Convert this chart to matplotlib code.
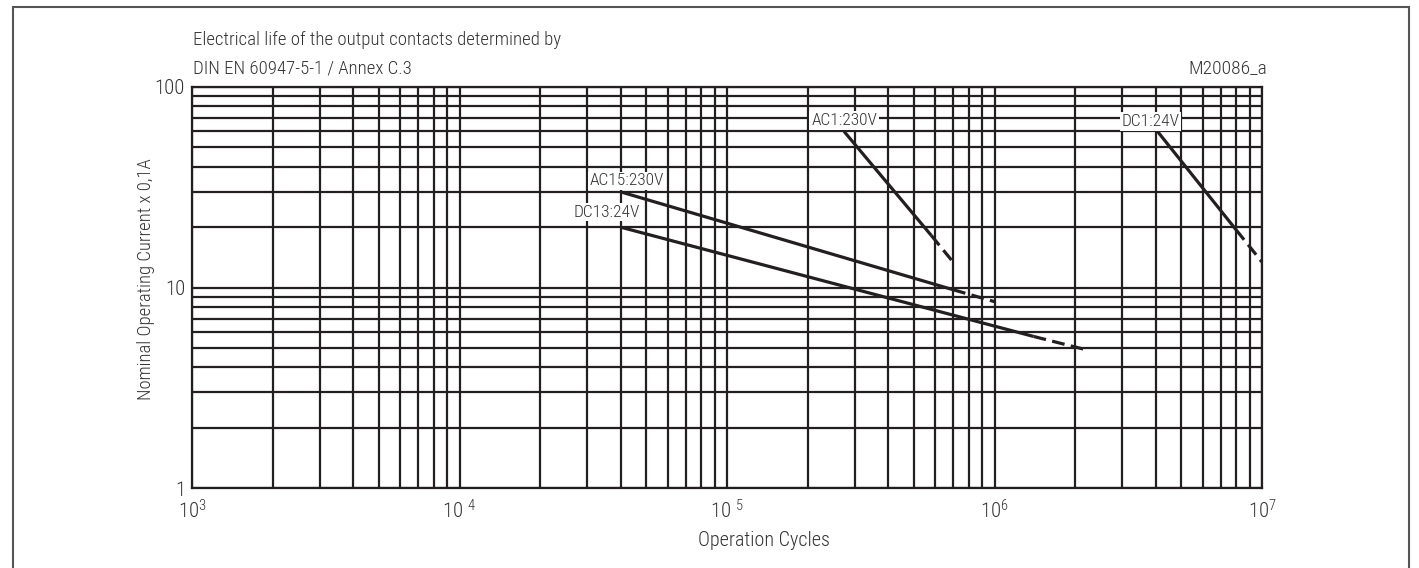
import matplotlib
matplotlib.use("Agg")
import matplotlib.pyplot as plt
from matplotlib import font_manager
from matplotlib.patches import Rectangle
from matplotlib.ticker import LogLocator, NullFormatter

_avail = {f.name for f in font_manager.fontManager.ttflist}
_prefs = ["Roboto Condensed", "IBM Plex Sans Condensed", "Archivo Narrow",
          "Liberation Sans Narrow", "Barlow Condensed", "Asap Condensed"]
MAIN = next((p for p in _prefs if p in _avail), "DejaVu Sans")
plt.rcParams['font.family'] = [MAIN, "DejaVu Sans"]
plt.rcParams['font.weight'] = 'light'
plt.rcParams['mathtext.fontset'] = 'custom'
plt.rcParams['mathtext.rm'] = MAIN + ':light'
plt.rcParams['mathtext.it'] = MAIN + ':light'

# ---- data ----
series_names = ["AC1:230V", "DC1:24V", "AC15:230V", "DC13:24V"]
# solid part (x, y) and dashed continuation
ac1_x_solid = [2.74e5, 5.8e5]
ac1_y_solid = [60, 18.2]
ac1_x_dash = [5.8e5, 7.0e5]
ac1_y_dash = [18.2, 13.4]

dc1_x_solid = [4.07e6, 8.0e6]
dc1_y_solid = [60, 19.4]
dc1_x_dash = [8.0e6, 1.0e7]
dc1_y_dash = [19.4, 13.4]

ac15_x_solid = [4.0e4, 7.0e5]
ac15_y_solid = [30, 9.75]
ac15_x_dash = [7.0e5, 1.0e6]
ac15_y_dash = [9.75, 8.5]

dc13_x_solid = [4.0e4, 1.4e6]
dc13_y_solid = [20, 5.7]
dc13_x_dash = [1.4e6, 2.15e6]
dc13_y_dash = [5.7, 4.93]

x_ticks = [1e3, 1e4, 1e5, 1e6, 1e7]
x_tick_labels = [r"$\mathregular{10^{3}}$", r"$\mathregular{10\ ^{4}}$", r"$\mathregular{10\ ^{5}}$",
                 r"$\mathregular{10^{6}}$", r"$\mathregular{10^{7}}$"]
y_ticks = [1, 10, 100]
y_tick_labels = ["1", "10", "100"]

# label offsets (pixels) relative to series start
label_offsets = [(0, 11), (-7, 10), (6, 11), (-14, 15)]

INK = "#231f20"
TXT = "#333333"

W, H = 1419, 568
fig = plt.figure(figsize=(W / 100, H / 100), dpi=100)
ax = fig.add_axes([192 / W, 1 - 488 / H, (1262 - 192) / W, (488 - 87) / H])
ax.set_xscale("log")
ax.set_yscale("log")
ax.set_xlim(1e3, 1e7)
ax.set_ylim(1, 100)

ax.xaxis.set_minor_locator(LogLocator(base=10, subs=range(2, 10)))
ax.yaxis.set_minor_locator(LogLocator(base=10, subs=range(2, 10)))
ax.xaxis.set_minor_formatter(NullFormatter())
ax.yaxis.set_minor_formatter(NullFormatter())
ax.grid(True, which="both", color=INK, linewidth=1.6)
ax.set_axisbelow(True)
for s in ax.spines.values():
    s.set_color(INK)
    s.set_linewidth(1.6)
ax.tick_params(which="both", length=0)
ax.set_xticks(x_ticks)
ax.set_xticklabels(x_tick_labels)
ax.set_yticks(y_ticks)
ax.set_yticklabels(y_tick_labels)
ax.tick_params(axis="x", pad=8, labelsize=15, labelcolor=TXT)
ax.tick_params(axis="y", pad=5, labelsize=15, labelcolor=TXT)

all_series = [
    (ac1_x_solid, ac1_y_solid, ac1_x_dash, ac1_y_dash),
    (dc1_x_solid, dc1_y_solid, dc1_x_dash, dc1_y_dash),
    (ac15_x_solid, ac15_y_solid, ac15_x_dash, ac15_y_dash),
    (dc13_x_solid, dc13_y_solid, dc13_x_dash, dc13_y_dash),
]
for name, (xs, ys, xd, yd), off in zip(series_names, all_series, label_offsets):
    ax.plot(xs, ys, color=INK, linewidth=2.3, solid_capstyle="butt", zorder=3, clip_on=False)
    ax.plot(xd, yd, color=INK, linewidth=2.3, linestyle=(0, (4, 2)), dash_capstyle="butt",
            zorder=3, clip_on=False)
    ax.annotate(name, xy=(xs[0], ys[0]), xytext=off, textcoords="offset pixels",
                ha="center", va="center", fontsize=12.5, color=TXT, zorder=4,
                bbox=dict(boxstyle="square,pad=0.1", fc="white", ec="none"))

fig.text(146 / W, 1 - 279 / H, "Nominal Operating Current x 0,1A", rotation=90,
         ha="center", va="center", fontsize=13.4, color=TXT)
fig.text(764 / W, 1 - 541 / H, "Operation Cycles", ha="center", va="center",
         fontsize=14.5, color=TXT)

fig.text(193 / W, 1 - 45 / H, "Electrical life of the output contacts determined by",
         ha="left", va="baseline", fontsize=13.5, color=TXT)
fig.text(193 / W, 1 - 74 / H, "DIN EN 60947-5-1 / Annex C.3",
         ha="left", va="baseline", fontsize=13.5, color=TXT)
fig.text(1267 / W, 1 - 73 / H, "M20086_a", ha="right", va="baseline", fontsize=14, color=TXT)

fig.patches.append(Rectangle((13 / W, -0.05), (1409 - 13) / W, 1.05 - 7 / H,
                             transform=fig.transFigure, fill=False, ec="#555555", lw=1.5))

fig.savefig("out.png", dpi=100)
